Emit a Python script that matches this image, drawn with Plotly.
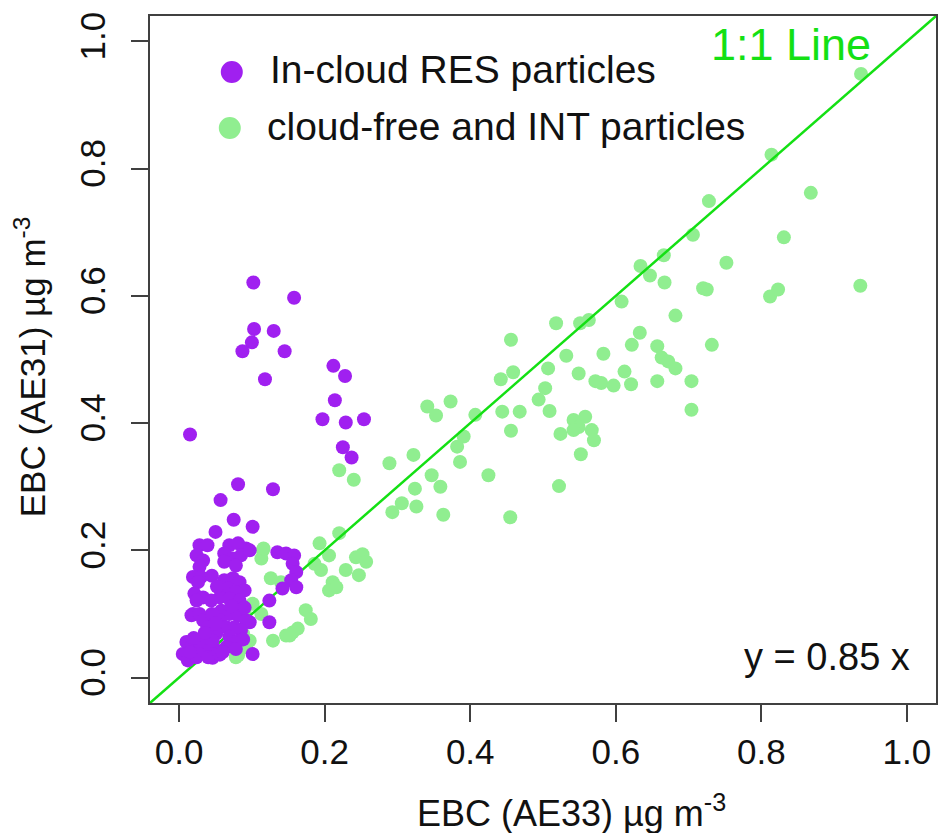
import plotly.graph_objects as go

# ---------------- data ----------------
green_x = [
    # low cluster
    0.115, 0.113, 0.126, 0.140, 0.101, 0.090, 0.113, 0.078, 0.088, 0.097, 0.081, 0.092,
    0.129, 0.147, 0.156, 0.163, 0.174, 0.181, 0.078, 0.116, 0.152,
    # mid cluster
    0.193, 0.220, 0.206, 0.186, 0.195, 0.229, 0.247, 0.243, 0.252, 0.257, 0.211, 0.206, 0.216,
    # 0.2-0.45
    0.220, 0.240, 0.289, 0.322, 0.341, 0.353, 0.373, 0.407, 0.391, 0.382, 0.386, 0.425,
    0.347, 0.359, 0.324, 0.326, 0.306, 0.293, 0.363,
    # 0.45-0.72
    0.634, 0.647, 0.667, 0.666, 0.608, 0.682, 0.518, 0.551, 0.563, 0.456, 0.633, 0.622,
    0.657, 0.663, 0.672, 0.682, 0.532, 0.583, 0.507, 0.459, 0.442, 0.549, 0.612, 0.572,
    0.580, 0.597, 0.621, 0.657, 0.704, 0.503, 0.494, 0.444, 0.468, 0.509, 0.704, 0.456,
    0.542, 0.558, 0.549, 0.567, 0.570, 0.524, 0.542, 0.552, 0.522, 0.455,
    # upper right
    0.937, 0.814, 0.728, 0.706, 0.868, 0.831, 0.752, 0.720, 0.725, 0.812, 0.823, 0.936, 0.732,
]
green_y = [
    0.200, 0.187, 0.156, 0.150, 0.116, 0.103, 0.100, 0.105, 0.069, 0.058, 0.035, 0.048,
    0.058, 0.066, 0.071, 0.077, 0.106, 0.092, 0.032, 0.203, 0.066,
    0.211, 0.227, 0.192, 0.179, 0.169, 0.169, 0.161, 0.189, 0.194, 0.182, 0.150, 0.137, 0.142,
    0.326, 0.311, 0.337, 0.350, 0.426, 0.412, 0.434, 0.413, 0.379, 0.363, 0.339, 0.318,
    0.318, 0.300, 0.297, 0.269, 0.274, 0.260, 0.256,
    0.647, 0.632, 0.621, 0.664, 0.591, 0.569, 0.557, 0.557, 0.562, 0.531, 0.542, 0.523,
    0.521, 0.503, 0.497, 0.486, 0.506, 0.509, 0.486, 0.480, 0.469, 0.478, 0.481, 0.466,
    0.463, 0.459, 0.461, 0.466, 0.466, 0.455, 0.437, 0.418, 0.418, 0.419, 0.421, 0.388,
    0.405, 0.410, 0.394, 0.389, 0.373, 0.383, 0.389, 0.351, 0.301, 0.252,
    0.949, 0.822, 0.749, 0.696, 0.762, 0.692, 0.652, 0.612, 0.610, 0.599, 0.610, 0.616, 0.523,
]

purple_x = [
    # upper group
    0.102, 0.158, 0.103, 0.130, 0.100, 0.087, 0.145, 0.118, 0.015, 0.081, 0.129, 0.057,
    0.212, 0.228, 0.214, 0.197, 0.229, 0.254, 0.225, 0.237,
    # 0.2-0.25
    0.075, 0.101, 0.050,
    0.028, 0.039, 0.024, 0.033, 0.028,
    0.069, 0.081, 0.092, 0.062, 0.074, 0.085, 0.097, 0.062, 0.078,
    0.135, 0.147, 0.158, 0.156, 0.161, 0.154, 0.161, 0.142,
    0.124, 0.124, 0.101, 0.097,
    # left cluster
    0.019, 0.030, 0.026, 0.021, 0.033, 0.024, 0.019, 0.017, 0.028, 0.033, 0.010, 0.017,
    0.005, 0.012, 0.024, 0.033, 0.042, 0.051, 0.040, 0.028,
    # middle cluster
    0.062, 0.074, 0.083, 0.090, 0.067, 0.078, 0.056, 0.069, 0.083, 0.058, 0.069, 0.081,
    0.092, 0.056, 0.065, 0.076, 0.085, 0.051, 0.069, 0.081, 0.065, 0.078,
    0.046, 0.056, 0.044, 0.039, 0.046,
    0.045, 0.050, 0.035, 0.060, 0.088, 0.090, 0.045, 0.015, 0.020, 0.052, 0.072,
]
purple_y = [
    0.621, 0.597, 0.548, 0.545, 0.527, 0.513, 0.513, 0.469, 0.382, 0.304, 0.296, 0.279,
    0.490, 0.474, 0.436, 0.406, 0.401, 0.406, 0.362, 0.346,
    0.248, 0.237, 0.229,
    0.208, 0.208, 0.192, 0.184, 0.174,
    0.208, 0.211, 0.203, 0.195, 0.187, 0.192, 0.200, 0.182, 0.176,
    0.197, 0.195, 0.192, 0.179, 0.166, 0.153, 0.142, 0.140,
    0.121, 0.087, 0.037, 0.087,
    0.158, 0.158, 0.150, 0.132, 0.126, 0.121, 0.100, 0.098, 0.100, 0.090, 0.056, 0.048,
    0.037, 0.027, 0.032, 0.043, 0.048, 0.043, 0.032, 0.058,
    0.153, 0.156, 0.150, 0.137, 0.140, 0.134, 0.126, 0.124, 0.121, 0.105, 0.100, 0.098,
    0.090, 0.090, 0.079, 0.079, 0.074, 0.069, 0.064, 0.058, 0.048, 0.045,
    0.031, 0.036, 0.121, 0.079, 0.058,
    0.100, 0.085, 0.070, 0.040, 0.060, 0.110, 0.160, 0.040, 0.062, 0.143, 0.112,
]

axis_range = [-0.04, 1.04]
tick_vals = [0.0, 0.2, 0.4, 0.6, 0.8, 1.0]
tick_text = ["0.0", "0.2", "0.4", "0.6", "0.8", "1.0"]
series_names = ["In-cloud RES particles", "cloud-free and INT particles"]

PURPLE = "#A020F0"
LGREEN = "#90EE90"
LINEG = "#14E014"
FONT = "Liberation Sans, Arial, Helvetica, sans-serif"
AXC = "#404040"

fig = go.Figure()
fig.add_trace(go.Scatter(x=green_x, y=green_y, mode="markers", name=series_names[1],
                         marker=dict(size=14, color=LGREEN, line=dict(width=0)),
                         showlegend=False))
fig.add_trace(go.Scatter(x=axis_range, y=axis_range, mode="lines", name="1:1 Line",
                         line=dict(color=LINEG, width=2.5), showlegend=False))
fig.add_trace(go.Scatter(x=purple_x, y=purple_y, mode="markers", name=series_names[0],
                         marker=dict(size=14, color=PURPLE, line=dict(width=0)),
                         showlegend=False))

axis_common = dict(range=axis_range, tickvals=tick_vals, ticktext=tick_text,
                   showgrid=False, zeroline=False, showline=True, mirror=True,
                   linecolor=AXC, linewidth=2, ticks="outside", ticklen=17,
                   tickwidth=2, tickcolor=AXC,
                   tickfont=dict(family=FONT, size=35, color="#111"))

fig.update_layout(
    width=940, height=833,
    margin=dict(l=150, r=2, t=16, b=130),
    paper_bgcolor="white", plot_bgcolor="white",
    xaxis=dict(**axis_common, ticklabelstandoff=0),
    yaxis=dict(**axis_common, tickangle=-90, ticklabelstandoff=12),
)

PW, PH = 788.0, 687.0  # plot area size in pixels


def px(xp):
    return (xp - 150) / PW


def py(yp):
    return (703 - yp) / PH


ann = []
ann.append(dict(text="EBC (AE33) µg m<sup>-3</sup>", x=px(573), y=py(811),
                xref="paper", yref="paper", showarrow=False, xanchor="center",
                yanchor="middle", font=dict(family=FONT, size=36, color="#111")))
ann.append(dict(text="EBC (AE31) µg m<sup>-3</sup>", x=px(30), y=py(367),
                xref="paper", yref="paper", showarrow=False, xanchor="center",
                yanchor="middle", textangle=-90,
                font=dict(family=FONT, size=35, color="#111")))
ann.append(dict(text=series_names[0], x=px(268), y=py(70), xref="paper", yref="paper",
                showarrow=False, xanchor="left", yanchor="middle",
                font=dict(family=FONT, size=39, color="#111")))
ann.append(dict(text=series_names[1], x=px(265), y=py(126), xref="paper", yref="paper",
                showarrow=False, xanchor="left", yanchor="middle",
                font=dict(family=FONT, size=39, color="#111")))
ann.append(dict(text="1:1 Line", x=px(793), y=py(44), xref="paper", yref="paper",
                showarrow=False, xanchor="center", yanchor="middle",
                font=dict(family=FONT, size=45, color=LINEG)))
ann.append(dict(text="y = 0.85 x", x=px(914), y=py(657), xref="paper", yref="paper",
                showarrow=False, xanchor="right", yanchor="middle",
                font=dict(family=FONT, size=38, color="#111")))
fig.update_layout(annotations=ann)

shapes = []
for (cx, cy, col) in [(232, 72, PURPLE), (230, 128, LGREEN)]:
    shapes.append(dict(type="circle", xref="paper", yref="paper",
                       xsizemode="pixel", ysizemode="pixel",
                       xanchor=px(cx), yanchor=py(cy),
                       x0=-11, x1=11, y0=-11, y1=11,
                       fillcolor=col, line=dict(width=0)))
fig.update_layout(shapes=shapes)

fig.write_html("out.html")
